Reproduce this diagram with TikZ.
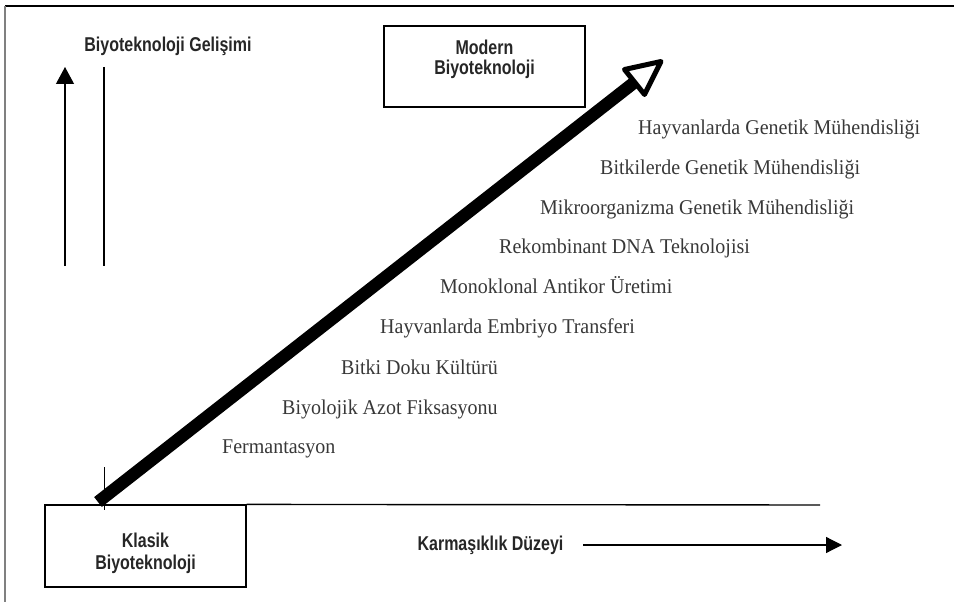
\documentclass[tikz,border=0pt]{standalone}
\usepackage{fontspec}
\setmainfont{Liberation Serif}
\newfontfamily\hb[FakeStretch=0.8]{Liberation Sans}
\newfontfamily\ser[FakeStretch=0.952]{Liberation Serif}
\usetikzlibrary{arrows.meta}
\begin{document}
\begin{tikzpicture}[x=1pt,y=-1pt,
  lbl/.style={font=\hb\bfseries\fontsize{20}{22}\selectfont, text=black!85, inner sep=0pt},
  item/.style={font=\ser\fontsize{21}{23}\selectfont, text=black!78, anchor=base west, inner sep=0pt},
  boxn/.style={draw, line width=1.2pt, minimum width=201pt, inner sep=0pt},
  boxt/.style={lbl, align=center},
  thin/.style={line width=1.2pt},
]
\useasboundingbox (0,0) rectangle (954,602);
% frame
\draw[line width=1.5pt] (5,6) -- (954,6);
\draw[line width=1.2pt, black!50] (5,6) -- (5,602);
% title and vertical axis
\node[lbl] (title) at (168,46) {Biyoteknoloji Geli\c{s}imi};
\coordinate (va0) at (65,266);
\coordinate (va1) at (65,67);
\draw[thin, -{Triangle[length=17pt,width=18pt]}] (va0) -- (va1);
\coordinate (vb0) at (104,67);
\coordinate (vb1) at (104,266);
\draw[thin] (vb0) -- (vb1);
% boxes
\node[boxn, minimum height=81pt] (modern) at (484.5,66.5) {};
\node[boxt, yshift=7pt] (moderntxt) at (modern.center) {Modern\\[-2pt]Biyoteknoloji};
\node[boxn, minimum height=82pt] (klasik) at (145.5,546) {};
\node[boxt, yshift=-7pt] (klasiktxt) at (klasik.center) {Klasik\\Biyoteknoloji};
% horizontal axis
\coordinate (haxend) at (820,505);
\draw[line width=1.4pt] (klasik.north east) -- (haxend);
\coordinate (tick0) at (104,467);
\coordinate (tick1) at (104,510);
\draw[line width=1pt] (tick0) -- (tick1);
% big arrow
\coordinate (bs) at (98,502);
\coordinate (bm) at (634.6,82.2);
\coordinate (tipA) at (661,61.5);
\coordinate (c1) at (644.5,94.5);
\coordinate (c2) at (624.5,69.5);
\draw[line width=12.5pt] (bs) -- (bm);
\draw[line width=5pt, line join=round, fill=white] (tipA) -- (c1) -- (c2) -- cycle;
% complexity label
\node[lbl] (karm) at (490.5,545) {Karma\c{s}\i kl\i k D\"uzeyi};
\coordinate (ka0) at (583,545);
\coordinate (ka1) at (842,545);
\draw[thin, -{Triangle[length=16pt,width=16pt]}] (ka0) -- (ka1);
% items
\node[item] (i1) at (638,134) {Hayvanlarda Genetik Mühendisliği};
\node[item] (i2) at (600,174) {Bitkilerde Genetik Mühendisliği};
\node[item] (i3) at (540,214) {Mikroorganizma Genetik Mühendisliği};
\node[item] (i4) at (499,253) {Rekombinant DNA Teknolojisi};
\node[item] (i5) at (440,293) {Monoklonal Antikor Üretimi};
\node[item] (i6) at (380,333) {Hayvanlarda Embriyo Transferi};
\node[item] (i7) at (341,374) {Bitki Doku Kültürü};
\node[item] (i8) at (282,414) {Biyolojik Azot Fiksasyonu};
\node[item] (i9) at (222,453) {Fermantasyon};
\end{tikzpicture}
\end{document}
